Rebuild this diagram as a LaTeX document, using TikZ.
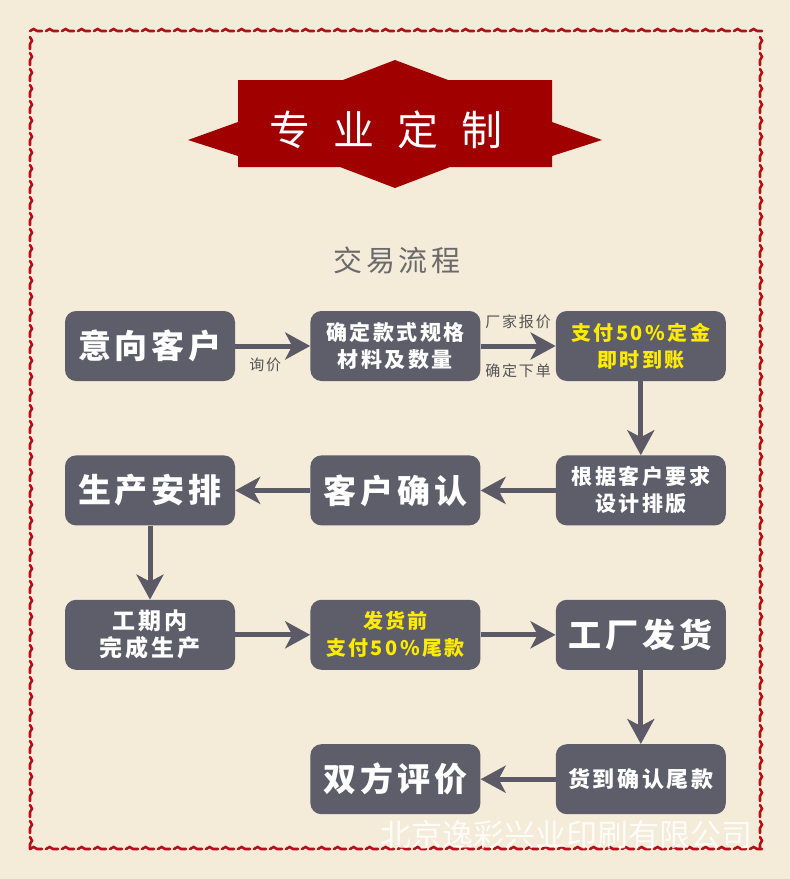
\documentclass[tikz,border=0pt]{standalone}
\usepackage{fontspec}
\setmainfont{Noto Sans CJK SC}
\newfontfamily\wide[LetterSpace=12]{Noto Sans CJK SC}
\usepackage{tikz}
\usetikzlibrary{arrows.meta, positioning, decorations.pathmorphing}
\usepackage{xcolor}
\definecolor{bgcream}{HTML}{F4EBD9}
\definecolor{boxgray}{HTML}{5E5D6A}
\definecolor{arrgray}{HTML}{5B5A66}
\definecolor{bordred}{HTML}{B3101A}
\definecolor{banred}{HTML}{A00000}
\definecolor{lblgray}{HTML}{555555}
\definecolor{titlegray}{HTML}{6A6A6A}
\definecolor{payyellow}{HTML}{FFEB00}

\begin{document}
\begin{tikzpicture}[x=1pt, y=-1pt,
  node distance=74pt and 75pt,
  box/.style={fill=boxgray, rounded corners=11pt, minimum width=170pt,
    minimum height=70pt, inner sep=0pt, align=center, text=white,
    font=\wide\bfseries\fontsize{21}{27}\selectfont},
  big/.style={box, font=\wide\bfseries\fontsize{33}{36}\selectfont},
  arr/.style={-{Stealth[length=25pt, width=27pt, inset=7pt]}, line width=5pt, draw=arrgray},
  lbl/.style={inner sep=0pt, text=lblgray, font=\wide\fontsize{15}{15}\selectfont},
  wave/.style={draw=bordred, line width=2.6pt, line cap=round, decorate,
    decoration={snake, segment length=11.5pt, amplitude=2pt}}]
\useasboundingbox (0,0) rectangle (790,879);
\fill[bgcream] (0,0) rectangle (790,879);
\foreach \x in {30,46,...,750} {
  \draw[wave] (\x,31) -- ++(12,0);
  \draw[wave] (\x,849) -- ++(12,0);
}
\foreach \y in {37,53,...,837} {
  \draw[wave] (30,\y) -- ++(0,12);
  \draw[wave] (760,\y) -- ++(0,12);
}
\fill[banred] (238,80) -- (343,80) -- (395,60) -- (448,80) -- (552,80) -- (552,122)
  -- (602,140) -- (552,156) -- (552,167) -- (450,167) -- (395,188) -- (340,167)
  -- (238,167) -- (238,156) -- (188,140) -- (238,122) -- cycle;
\node[text=white, font=\fontsize{41}{41}\selectfont] (title) at (386,130)
  {专\hspace{23pt}业\hspace{23pt}定\hspace{23pt}制};
\node[text=titlegray, font=\wide\fontsize{29}{29}\selectfont] (flow) at (397,260) {交易流程};
\node[big] (intent) at (150,346) {意向客户};
\node[box, right=of intent] (spec) {确定款式规格\\材料及数量};
\node[box, right=of spec, text=payyellow, font=\wide\bfseries\fontsize{20}{27}\selectfont] (deposit) {支付50\%定金\\即时到账};
\node[box, below=of deposit] (design) {根据客户要求\\设计排版};
\node[big, left=of design] (confirm) {客户确认};
\node[big, left=of confirm] (plan) {生产安排};
\node[box, below=of plan, font=\wide\bfseries\fontsize{23}{27}\selectfont] (produce) {工期内\\完成生产};
\node[box, right=of produce, text=payyellow, font=\wide\bfseries\fontsize{20}{27}\selectfont] (balance) {发货前\\支付50\%尾款};
\node[big, right=of balance] (ship) {工厂发货};
\node[box, below=of ship, font=\wide\bfseries\fontsize{22}{27}\selectfont] (receive) {货到确认尾款};
\node[big, left=of receive] (review) {双方评价};
\draw[arr] (intent) -- node[lbl, below=9pt, pos=0.4] {询价} (spec);
\draw[arr] (spec) -- node[lbl, above=15pt] {厂家报价} node[lbl, below=15pt] {确定下单} (deposit);
\draw[arr] (deposit) -- (design);
\draw[arr] (design) -- (confirm);
\draw[arr] (confirm) -- (plan);
\draw[arr] (plan) -- (produce);
\draw[arr] (produce) -- (balance);
\draw[arr] (balance) -- (ship);
\draw[arr] (ship) -- (receive);
\draw[arr] (receive) -- (review);
\node[text=white, opacity=0.85, font=\fontsize{31}{31}\selectfont] (mark) at (566,835)
  {北京逸彩兴业印刷有限公司};
\end{tikzpicture}
\end{document}
